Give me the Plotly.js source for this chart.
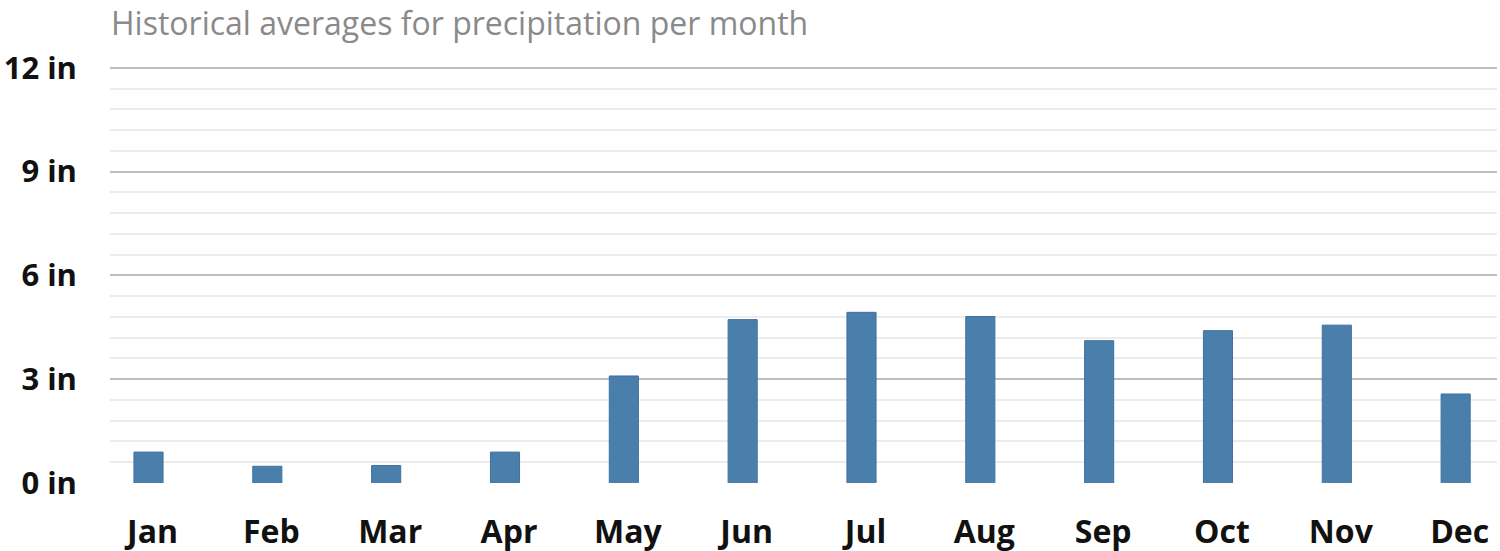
<!DOCTYPE html>
<html>
<head>
<meta charset="utf-8">
<script src="https://cdn.plot.ly/plotly-3.0.1.min.js"></script>
<style>html,body{margin:0;padding:0;background:#fff;}#chart{width:1500px;height:551px;}</style>
</head>
<body>
<div id="chart"></div>
<script>
const months = ["Jan","Feb","Mar","Apr","May","Jun","Jul","Aug","Sep","Oct","Nov","Dec"];
const precipitation = [0.89, 0.48, 0.50, 0.89, 3.09, 4.72, 4.93, 4.81, 4.11, 4.40, 4.56, 2.57];
const yTicks = [0, 3, 6, 9, 12];
const titleText = "Historical averages for precipitation per month";

const trace = {
  type: "bar",
  x: months,
  y: precipitation,
  width: 0.245,
  marker: {color: "#4a7eab", line: {color: "#3f72a0", width: 1}},
  hoverinfo: "x+y"
};

const layout = {
  width: 1500, height: 551,
  margin: {l: 110, r: 3, t: 64, b: 68},
  paper_bgcolor: "#fff", plot_bgcolor: "#fff",
  showlegend: false,
  font: {family: "Open Sans, sans-serif"},
  title: {
    text: titleText,
    font: {family: "Open Sans, sans-serif", size: 32, color: "#8a8a8a"},
    xref: "container", yref: "container",
    x: 111/1500, xanchor: "left",
    y: 1 - 24/551, yanchor: "middle"
  },
  xaxis: {
    type: "category",
    range: [-0.324, 11.348],
    showgrid: false, zeroline: false, showline: false,
    ticks: "",
    tickfont: {family: "Open Sans, sans-serif", size: 32, color: "#111", weight: "bold"},
    ticklabelstandoff: 27,
    ticklabelshift: 4
  },
  yaxis: {
    range: [-0.004, 12.11],
    tickvals: yTicks,
    ticktext: yTicks.map(v => v + " in"),
    showgrid: true, gridcolor: "#bdbdbd", gridwidth: 2,
    zeroline: false, showline: false,
    ticks: "",
    tickfont: {family: "Open Sans, sans-serif", size: 31, color: "#111", weight: "bold"},
    ticklabelstandoff: 32,
    minor: {dtick: 0.6, tick0: 0, showgrid: true, gridcolor: "#ececec", gridwidth: 2}
  },
  bargap: 0.75
};

Plotly.newPlot("chart", [trace], layout, {displayModeBar: false, staticPlot: true});
</script>
</body>
</html>
